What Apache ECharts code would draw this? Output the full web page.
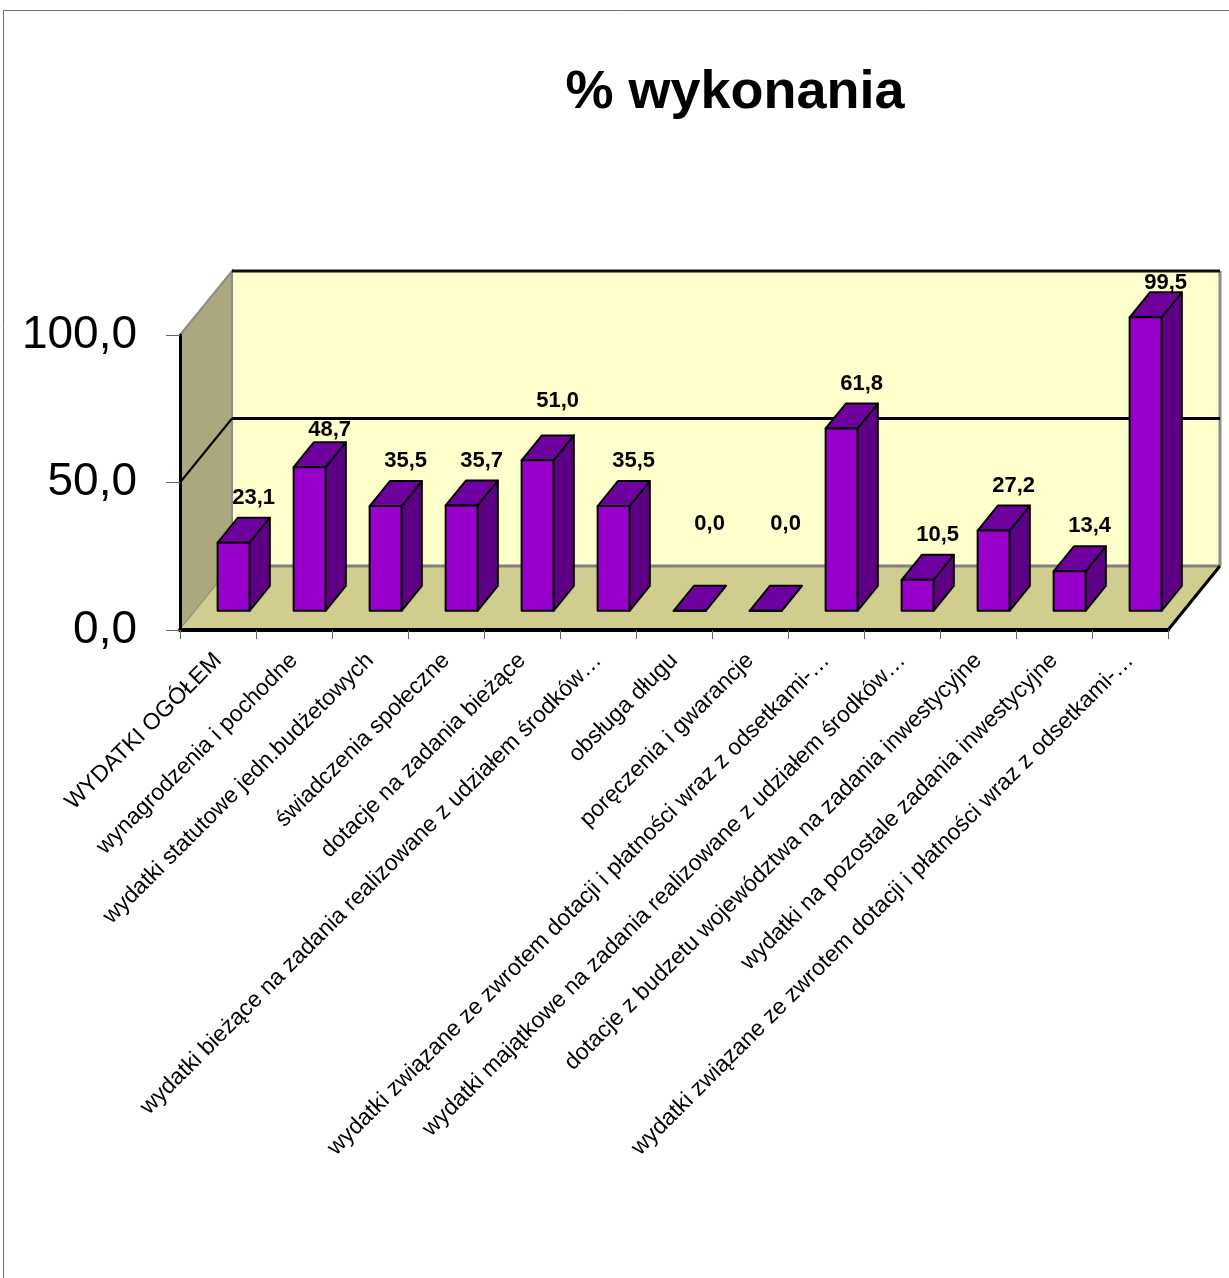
<!DOCTYPE html>
<html>
<head>
<meta charset="utf-8">
<title>% wykonania</title>
<script src="https://cdn.jsdelivr.net/npm/echarts@6/dist/echarts.min.js"></script>
<style>
html, body { margin: 0; padding: 0; background: #fff; }
#main { width: 1229px; height: 1278px; }
</style>
</head>
<body>
<div id="main"></div>
<script>
// dane wykresu
var categories = [
	'WYDATKI OGÓŁEM',
	'wynagrodzenia i pochodne',
	'wydatki statutowe jedn.budżetowych',
	'świadczenia społeczne',
	'dotacje na zadania bieżące',
	'wydatki bieżące na zadania realizowane z udziałem środków…',
	'obsługa długu',
	'poręczenia i gwarancje',
	'wydatki związane ze zwrotem dotacji i płatności wraz z odsetkami-…',
	'wydatki majątkowe na zadania realizowane z udziałem środków…',
	'dotacje z budzetu województwa na zadania inwestycyjne',
	'wydatki na pozostale zadania inwestycyjne',
	'wydatki związane ze zwrotem dotacji i płatności wraz z odsetkami-…'
];
var values = [23.1, 48.7, 35.5, 35.7, 51.0, 35.5, 0.0, 0.0, 61.8, 10.5, 27.2, 13.4, 99.5];
var yTicks = [0, 50, 100];

// wygląd 3D (excelowy)
var DEPTH = [52, -64];
var BAR_FRONT = 0.3, BAR_BACK = 0.69, BAR_WIDTH = 0.42;
var LABEL_NUDGE = {1: 8, 4: -14, 6: -42, 7: -42, 12: 11};
var FONT = '"Liberation Sans", Arial, sans-serif';

function fmt(v) {
	return v.toFixed(1).replace('.', ',');
}

function line(x1, y1, x2, y2, color, w) {
	return {
		type: 'line',
		shape: {x1: x1, y1: y1, x2: x2, y2: y2},
		style: {stroke: color, lineWidth: w}
	};
}

function renderWalls(params, api) {
	var cs = params.coordSys;
	var left = cs.x, right = cs.x + cs.width;
	var y0 = api.coord([0, yTicks[0]])[1];
	var yTop = api.coord([0, yTicks[yTicks.length - 1]])[1];
	var dx = DEPTH[0], dy = DEPTH[1];
	var ch = [];
	// tylna ściana
	ch.push({type: 'polygon', shape: {points: [[left + dx, yTop + dy], [right + dx, yTop + dy], [right + dx, y0 + dy], [left + dx, y0 + dy]]},
		style: {fill: '#ffffcc'}});
	// boczna ściana
	ch.push({type: 'polygon', shape: {points: [[left, yTop], [left + dx, yTop + dy], [left + dx, y0 + dy], [left, y0]]},
		style: {fill: '#aaa87c', stroke: '#8c8c8c', lineWidth: 2}});
	// podłoga
	ch.push({type: 'polygon', shape: {points: [[left, y0], [left + dx, y0 + dy], [right + dx, y0 + dy], [right, y0]]},
		style: {fill: '#d1cd8e'}});
	ch.push(line(left + dx, y0 + dy, right + dx, y0 + dy, '#808080', 3));
	ch.push(line(right + dx, yTop + dy, right + dx, y0 + dy, '#8c8c8c', 3));
	ch.push(line(left + dx, yTop + dy, right + dx, yTop + dy, '#111', 3));
	yTicks.slice(1, -1).forEach(function(t) {
		var y = api.coord([0, t])[1];
		ch.push(line(left, y, left + dx, y + dy, '#000', 2));
		ch.push(line(left + dx, y + dy, right + dx, y + dy, '#000', 3));
	});
	ch.push(line(right, y0, right + dx, y0 + dy, '#000', 3));
	return {type: 'group', children: ch};
}

function renderBar(params, api) {
	var i = api.value(0), v = api.value(1);
	var band = api.size([1, 0])[0];
	var w = band * BAR_WIDTH;
	var base = api.coord([i, 0]);
	var top = api.coord([i, v]);
	var fx = DEPTH[0] * BAR_FRONT, fy = DEPTH[1] * BAR_FRONT;
	var bx = DEPTH[0] * (BAR_BACK - BAR_FRONT), by = DEPTH[1] * (BAR_BACK - BAR_FRONT);
	var x0 = base[0] + fx - w / 2, x1 = x0 + w;
	var yb = base[1] + fy, yt = top[1] + fy;
	var stroke = {stroke: '#000', lineWidth: 2, lineJoin: 'round'};
	var side = {type: 'polygon', shape: {points: [[x1, yb], [x1, yt], [x1 + bx, yt + by], [x1 + bx, yb + by]]},
		style: Object.assign({fill: '#5e0086'}, stroke)};
	var topFace = {type: 'polygon', shape: {points: [[x0, yt], [x1, yt], [x1 + bx, yt + by], [x0 + bx, yt + by]]},
		style: Object.assign({fill: '#6f00a0'}, stroke)};
	var front = {type: 'rect', shape: {x: x0, y: yt, width: w, height: yb - yt},
		style: Object.assign({fill: '#9900cc'}, stroke)};
	var label = {type: 'text', z2: 10, style: {
		text: fmt(v),
		x: (x0 + x1) / 2 + 20,
		y: yt + by - 20 + (LABEL_NUDGE[i] || 0),
		align: 'center', verticalAlign: 'middle',
		font: 'bold 22px ' + FONT, fill: '#000'
	}};
	return {type: 'group', children: [side, topFace, front, label]};
}

var myChart = echarts.init(document.getElementById('main'));
var option = {
	animation: false,
	graphic: [{
		type: 'rect', z: -10,
		shape: {x: 3.5, y: 10.5, width: 1300, height: 1300},
		style: {fill: '#fff', stroke: '#6e6e6e', lineWidth: 1}
	}, {
		type: 'text', z: 10,
		style: {
			text: '% wykonania', x: 735, y: 93,
			align: 'center', verticalAlign: 'middle',
			font: 'bold 54px ' + FONT, fill: '#000'
		}
	}],
	grid: {left: 180, right: 61, top: 335, bottom: 648},
	xAxis: {
		type: 'category',
		data: categories,
		z: 5,
		axisLine: {lineStyle: {color: '#000', width: 4}},
		axisTick: {show: true, length: 9, lineStyle: {color: '#666', width: 1}},
		axisLabel: {interval: 0, rotate: 45, margin: 27, fontSize: 23, color: '#000', fontFamily: FONT}
	},
	yAxis: {
		type: 'value',
		min: 0, max: 100, interval: 50,
		z: 5,
		axisLine: {show: true, lineStyle: {color: '#000', width: 3}},
		axisTick: {show: true, length: 14, lineStyle: {color: '#666', width: 1}},
		axisLabel: {margin: 43, fontSize: 46, color: '#000', fontFamily: FONT, formatter: fmt},
		splitLine: {show: false}
	},
	series: [{
		type: 'custom',
		name: 'ściany',
		z: 1,
		silent: true,
		renderItem: renderWalls,
		data: [[0, 0]]
	}, {
		type: 'custom',
		name: '% wykonania',
		z: 6,
		renderItem: renderBar,
		encode: {x: 0, y: 1},
		data: values.map(function(v, i) { return [i, v]; })
	}]
};
myChart.setOption(option);
</script>
</body>
</html>
